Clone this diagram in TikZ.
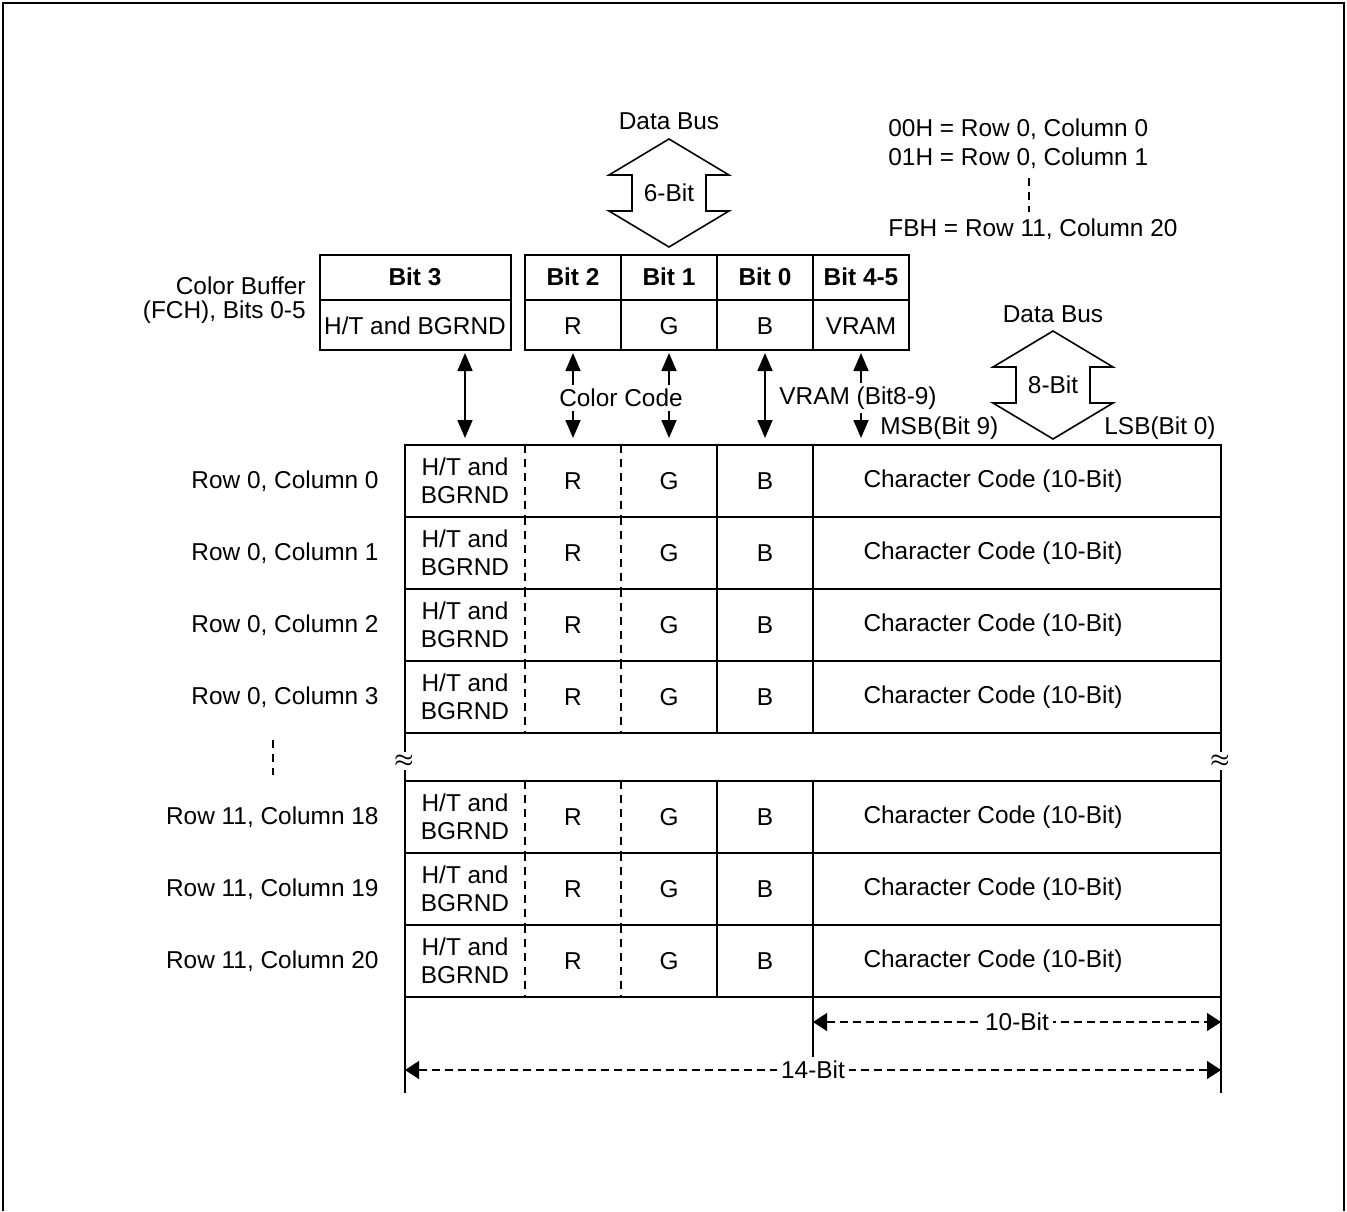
\documentclass[tikz,border=0pt]{standalone}
\usepackage{fontspec}
\setmainfont{Liberation Sans}
\usetikzlibrary{arrows.meta}

\begin{document}
\begin{tikzpicture}[x=0.5pt,y=-0.5pt,
every node/.style = {font=\fontsize{12.2}{14}\selectfont, inner sep=1pt},
grid/.style = {line width=0.8pt},
split/.style = {line width=0.6pt, dash pattern=on 4pt off 3pt},
link/.style = {line width=0.85pt,
        {Triangle[length=9pt,width=7.5pt]}-{Triangle[length=9pt,width=7.5pt]}},
measure/.style = {line width=0.6pt, dash pattern=on 4pt off 2.5pt,
        {Triangle[length=7pt,width=9pt]}-{Triangle[length=7pt,width=9pt]}},
blank/.style = {fill=white, inner sep=2pt},
brk/.style = {fill=white, inner xsep=0pt, inner ysep=1.5pt,
        font=\fontsize{11}{12}\selectfont\boldmath}]

        \useasboundingbox (0,0) rectangle (1347,1211);
        \draw[line width=1.3pt] (3,1211) -- (3,3) -- (1344,3) -- (1344,1211);

        % data buses
        \foreach \cx/\cy/\ly/\bits in {669/193/121/6, 1053/385/314/8}{
        \draw[grid] (\cx,\cy) ++(0,-54) -- ++(60,36) -- ++(-23,0) -- ++(0,36)
            -- ++(23,0) -- ++(-60,36) -- ++(-60,-36) -- ++(23,0) -- ++(0,-36)
            -- ++(-23,0) -- cycle;
        \node (bus\bits) at (\cx,\cy) {\bits-Bit};
        \node (busname\bits) at (\cx,\ly) {Data Bus};
        }

        % address legend
        \node[anchor=west] (adr0) at (886,129) {00H = Row 0, Column 0};
        \node[anchor=west] (adr1) at (886,158) {01H = Row 0, Column 1};
        \node[anchor=west] (adrN) at (886,229) {FBH = Row 11, Column 20};
        \draw[split] (1029,178) -- (1029,212);

        % color buffer
        \node[anchor=east] (cbuf) at (308,286) {Color Buffer};
        \node[anchor=east] (cbufadr) at (308,312) {(FCH), Bits 0-5};
        \draw[grid] (320,255) rectangle (511,350);
        \draw[grid] (320,300) -- (511,300);
        \draw[grid] (525,255) rectangle (909,350);
        \draw[grid] (525,300) -- (909,300);
        \foreach \x in {621,717,813}
            \draw[grid] (\x,255) -- (\x,350);
        \node (bitHT) at (415,277) {\textbf{Bit 3}};
        \node (bufHT) at (415,326) {H/T and BGRND};
        \foreach \x/\b/\c [count=\i] in {573/2/R, 669/1/G, 765/0/B, 861/4-5/VRAM}{
        \node (bit\i) at (\x,277) {\textbf{Bit \b}};
        \node (buf\i) at (\x,326) {\c};
        }

        % links from buffer to table
        \foreach \x [count=\i from 0] in {465,573,669,765,861}{
        \coordinate (up\i) at (\x,353);
        \coordinate (dn\i) at (\x,438);
        \draw[link] (up\i) -- (dn\i);
        }
        \node[blank] (ccode) at (621,398) {Color Code};
        \node[blank] (vram) at (858,398) {VRAM (Bit8-9)};
        \node[anchor=west] (msb) at (878,428) {MSB(Bit 9)};
        \node[anchor=east] (lsb) at (1218,428) {LSB(Bit 0)};

        % display memory rows
        \foreach \top/\lab [count=\i] in {445/{Row 0, Column 0}, 517/{Row 0, Column 1},
            589/{Row 0, Column 2}, 661/{Row 0, Column 3}, 781/{Row 11, Column 18},
            853/{Row 11, Column 19}, 925/{Row 11, Column 20}}{
        \pgfmathsetmacro\bot{\top+72}
        \pgfmathsetmacro\mid{\top+36}
        \draw[grid] (405,\top) rectangle (1221,\bot);
        \draw[grid] (717,\top) -- (717,\bot);
        \draw[grid] (813,\top) -- (813,\bot);
        \draw[split] (525,\top) -- (525,\bot);
        \draw[split] (621,\top) -- (621,\bot);
        \node[anchor=east] (row\i) at (381,\mid) {\lab};
        \node[align=center] (ht\i) at (465,\mid) {H/T and\\BGRND};
        \node (r\i) at (573,\mid) {R};
        \node (g\i) at (669,\mid) {G};
        \node (b\i) at (765,\mid) {B};
        \node (cc\i) at (993,\mid) {Character Code (10-Bit)};
        }

        % break
        \draw[grid] (405,733) -- (405,781);
        \draw[grid] (1221,733) -- (1221,781);
        \node[brk] (brkL) at (404,761) {$\approx$};
        \node[brk] (brkR) at (1220,761) {$\approx$};
        \draw[split] (273,740) -- (273,775);

        % widths
        \coordinate (m14L) at (405,1070);
        \coordinate (m14R) at (1221,1070);
        \coordinate (m10L) at (813,1022);
        \coordinate (m10R) at (1221,1022);
        \draw[grid] (405,997) -- (405,1093);
        \draw[grid] (813,997) -- (813,1060);
        \draw[grid] (1221,997) -- (1221,1093);
        \draw[measure] (m10L) -- node[blank] (w10) {10-Bit} (m10R);
        \draw[measure] (m14L) -- node[blank] (w14) {14-Bit} (m14R);

    \end{tikzpicture}
\end{document}
